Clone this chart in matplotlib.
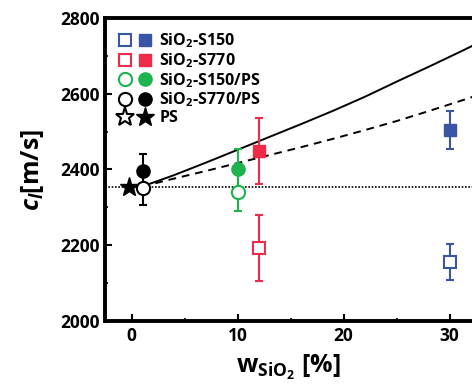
import matplotlib
matplotlib.use('Agg')
import matplotlib.pyplot as plt
from matplotlib.lines import Line2D
from matplotlib.legend_handler import HandlerTuple

plt.rcParams['font.family'] = ['Open Sans', 'DejaVu Sans']
plt.rcParams['font.weight'] = 'bold'
plt.rcParams['mathtext.fontset'] = 'custom'
plt.rcParams['mathtext.rm'] = 'Open Sans:bold'
plt.rcParams['mathtext.bf'] = 'Open Sans:bold'
plt.rcParams['mathtext.it'] = 'Open Sans:bold:italic'

# data
blue = '#3a55a6'
red = '#ef2b4a'
green = '#1db34e'

s150_x = [30]
s150_open = [2155]
s150_open_err = [48]
s150_fill = [2505]
s150_fill_err = [50]

s770_x = [12]
s770_open = [2192]
s770_open_err = [87]
s770_fill = [2450]
s770_fill_err = [87]

s150ps_x = [10]
s150ps_open = [2340]
s150ps_open_err = [50]
s150ps_fill = [2400]
s150ps_fill_err = [55]

s770ps_x = [1.1]
s770ps_open = [2350]
s770ps_open_err = [45]
s770ps_fill = [2395]
s770ps_fill_err = [47]

ps_x = [-0.2]
ps_y = [2355]
ps_level = 2355

# model curves
curve_x = [1, 4, 7, 10, 13, 16, 19, 22, 25, 28, 31, 34]
curve_solid = [2355, 2385, 2418, 2452, 2486, 2520, 2555, 2592, 2632, 2671, 2711, 2752]
curve_dashed = [2355, 2376, 2396, 2417, 2438, 2459, 2481, 2504, 2528, 2554, 2581, 2609]

fig = plt.figure(figsize=(4.72, 3.86), dpi=100)
ax = fig.add_axes([105 / 472, 65 / 386, 1 - 105 / 472, 303 / 386])

ax.axhline(ps_level, color='black', ls=(0, (1, 1)), lw=1.2, zorder=1)
ax.plot(curve_x, curve_solid, color='black', lw=1.4, zorder=2)
ax.plot(curve_x, curve_dashed, color='black', lw=1.4, ls=(0, (4, 3)), zorder=2)

ebk = dict(capsize=3, elinewidth=1.5, capthick=1.5, zorder=3)
ax.errorbar(s150_x, s150_open, yerr=s150_open_err, fmt='s', ms=8, mfc='white',
            mec=blue, mew=1.5, ecolor=blue, **ebk)
ax.errorbar(s150_x, s150_fill, yerr=s150_fill_err, fmt='s', ms=8, mfc=blue,
            mec=blue, ecolor=blue, **ebk)
ax.errorbar(s770_x, s770_open, yerr=s770_open_err, fmt='s', ms=8, mfc='white',
            mec=red, mew=1.5, ecolor=red, **ebk)
ax.errorbar(s770_x, s770_fill, yerr=s770_fill_err, fmt='s', ms=8, mfc=red,
            mec=red, ecolor=red, **ebk)
ax.errorbar(s150ps_x, s150ps_fill, yerr=s150ps_fill_err, fmt='o', ms=9.5, mfc=green,
            mec=green, ecolor=green, **ebk)
ax.errorbar(s150ps_x, s150ps_open, yerr=s150ps_open_err, fmt='o', ms=9.5, mfc='white',
            mec=green, mew=1.5, ecolor=green, **ebk)
ax.errorbar(s770ps_x, s770ps_fill, yerr=s770ps_fill_err, fmt='o', ms=9.5, mfc='black',
            mec='black', ecolor='black', **ebk)
ax.plot(ps_x, ps_y, marker='*', ms=14, color='black', ls='none', zorder=4)
ax.errorbar(s770ps_x, s770ps_open, yerr=s770ps_open_err, fmt='o', ms=9.5, mfc='white',
            mec='black', mew=1.5, ecolor='black', capsize=3, elinewidth=1.5,
            capthick=1.5, zorder=5)

ax.set_xlim(-2.5, 32.1)
ax.set_ylim(2000, 2800)
ax.set_xticks([0, 10, 20, 30])
ax.set_xticks([5, 15, 25], minor=True)
ax.set_yticks([2000, 2200, 2400, 2600, 2800])
ax.set_yticks([2100, 2300, 2500, 2700], minor=True)
ax.tick_params(which='major', direction='in', length=5, width=1.5, labelsize=12.5, pad=4)
ax.tick_params(which='minor', direction='in', length=2.5, width=1.2)
for lab in ax.get_xticklabels() + ax.get_yticklabels():
    lab.set_fontweight('bold')
for s in ['left', 'bottom', 'top']:
    ax.spines[s].set_linewidth(2.8)
ax.spines['right'].set_visible(False)

ax.set_ylabel(r'$c_l$[m/s]', fontsize=18, fontweight='bold', labelpad=10)
ax.set_xlabel(r'w$_{\mathrm{SiO_2}}$ [%]', fontsize=18, fontweight='bold', labelpad=6)

def pair(marker, color, ms):
    o = Line2D([], [], marker=marker, ls='none', ms=ms, mfc='white', mec=color, mew=1.5)
    f = Line2D([], [], marker=marker, ls='none', ms=ms, mfc=color, mec=color)
    return (o, f)

handles = [pair('s', blue, 8), pair('s', red, 8), pair('o', green, 9.5),
           pair('o', 'black', 9.5), pair('*', 'black', 14)]
labels = ['SiO$_2$-S150', 'SiO$_2$-S770', 'SiO$_2$-S150/PS', 'SiO$_2$-S770/PS', 'PS']
ax.legend(handles, labels, handler_map={tuple: HandlerTuple(ndivide=None, pad=0.5)},
          loc='upper left', frameon=False, handlelength=2.0,
          handletextpad=0.55, labelspacing=0.06, borderaxespad=0.45,
          prop={'weight': 'bold', 'size': 11.5})

fig.savefig('out.png', dpi=100)
